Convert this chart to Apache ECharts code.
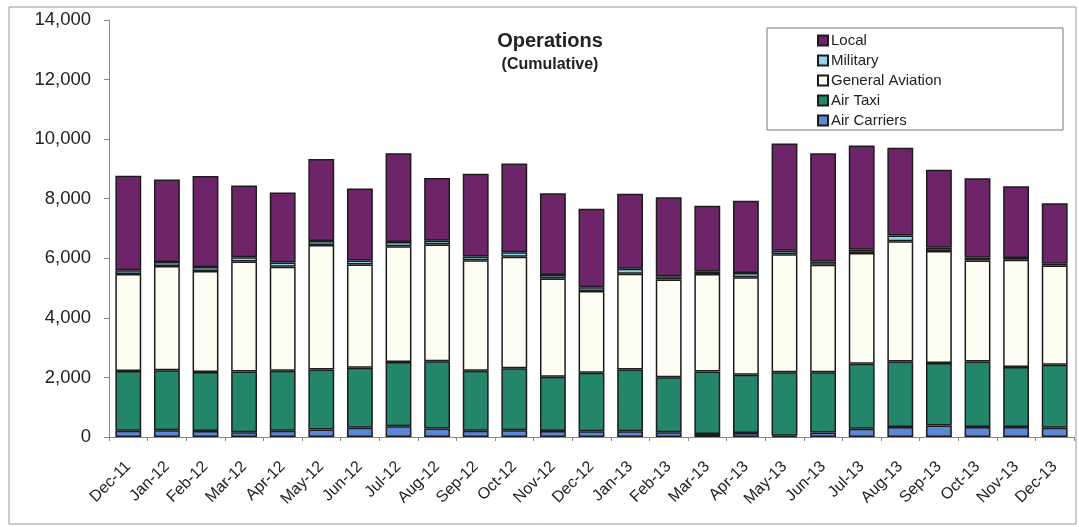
<!DOCTYPE html>
<html>
<head>
<meta charset="utf-8">
<title>Operations (Cumulative)</title>
<script src="https://cdn.jsdelivr.net/npm/echarts@6/dist/echarts.min.js"></script>
<style>
  html, body { margin: 0; padding: 0; background: #fff; }
  #chart { width: 1079px; height: 527px; }
</style>
</head>
<body>
<div id="chart"></div>
<script>
// months on the x axis
var months = ['Dec-11', 'Jan-12', 'Feb-12', 'Mar-12', 'Apr-12', 'May-12', 'Jun-12', 'Jul-12',
  'Aug-12', 'Sep-12', 'Oct-12', 'Nov-12', 'Dec-12', 'Jan-13', 'Feb-13', 'Mar-13', 'Apr-13',
  'May-13', 'Jun-13', 'Jul-13', 'Aug-13', 'Sep-13', 'Oct-13', 'Nov-13', 'Dec-13']

// stacked series, bottom to top
var airCarriers = [210, 225, 200, 160, 210, 250, 310, 365, 285, 210, 225, 200, 195, 190, 160, 100, 135,
  40, 150, 280, 335, 390, 335, 335, 310]
var airTaxi = [2005, 2020, 1980, 2040, 2015, 2020, 2015, 2150, 2260, 2015, 2080, 1825, 1965, 2080, 1845,
  2095, 1955, 2135, 2020, 2180, 2200, 2095, 2200, 2015, 2115]
var generalAviation = [3255, 3500, 3390, 3695, 3490, 4180, 3470, 3890, 3915, 3710, 3750, 3300, 2740,
  3210, 3280, 3275, 3270, 3960, 3610, 3715, 4040, 3760, 3390, 3600, 3330]
var military = [130, 130, 135, 140, 140, 130, 130, 140, 130, 125, 145, 115, 125, 170, 110, 90, 145,
  115, 110, 110, 190, 110, 90, 60, 60]
var local = [3170, 2770, 3055, 2410, 2350, 2750, 2420, 2980, 2105, 2775, 2985, 2740, 2640, 2515, 2650,
  2205, 2425, 3600, 3640, 3500, 2945, 2620, 2675, 2410, 2035]

var yTicks = [0, 14000, 2000] // min, max, step

var chart = echarts.init(document.getElementById('chart'))

function bar (name, data, color) {
  return {
    name: name,
    type: 'bar',
    stack: 'ops',
    barWidth: '67%',
    data: data,
    itemStyle: { color: color, borderColor: '#1c1c1c', borderWidth: 1.5 }
  }
}

var option = {
  animation: false,
  backgroundColor: '#fff',
  textStyle: { fontFamily: 'Liberation Sans, Arial, sans-serif' },
  title: {
    text: 'Operations',
    subtext: '(Cumulative)',
    left: 545,
    top: 26,
    textAlign: 'center',
    itemGap: 6,
    textStyle: { fontSize: 20, fontWeight: 'bold', color: '#222' },
    subtextStyle: { fontSize: 16, fontWeight: 'bold', color: '#222' }
  },
  legend: {
    orient: 'vertical',
    left: 812,
    top: 28,
    itemWidth: 10,
    itemHeight: 10,
    itemGap: 5,
    icon: 'rect',
    textStyle: { fontSize: 15, color: '#222', padding: [0, 0, 0, -2] },
    data: ['Local', 'Military', 'General Aviation', 'Air Taxi', 'Air Carriers']
  },
  graphic: [
    {
      type: 'rect',
      shape: { x: 767, y: 28, width: 296, height: 102 },
      style: { fill: 'none', stroke: '#777', lineWidth: 1 },
      z: -1
    },
    {
      type: 'rect',
      shape: { x: 9, y: 7, width: 1067, height: 517 },
      style: { fill: 'none', stroke: '#999', lineWidth: 1 },
      z: -1
    }
  ],
  grid: { left: 109, right: 5, top: 20, bottom: 90 },
  xAxis: {
    type: 'category',
    data: months,
    axisLine: { lineStyle: { color: '#888' } },
    axisTick: { show: true, alignWithLabel: false, length: 4, lineStyle: { color: '#888' } },
    axisLabel: { rotate: 45, fontSize: 16, color: '#222', margin: 27, interval: 0 }
  },
  yAxis: {
    type: 'value',
    min: yTicks[0],
    max: yTicks[1],
    interval: yTicks[2],
    splitLine: { show: false },
    axisLine: { show: true, lineStyle: { color: '#888' } },
    axisTick: { show: true, length: 5, lineStyle: { color: '#888' } },
    axisLabel: {
      fontSize: 18.5,
      color: '#222',
      margin: 18,
      formatter: function (v) { return v.toLocaleString('en-US') }
    }
  },
  series: [
    bar('Air Carriers', airCarriers, '#5b87d4'),
    bar('Air Taxi', airTaxi, '#23866a'),
    bar('General Aviation', generalAviation, '#fdfdf2'),
    bar('Military', military, '#8fd3ee'),
    bar('Local', local, '#6e2468')
  ]
}

chart.setOption(option)
window.addEventListener('resize', function () {
  chart.resize()
})
</script>
</body>
</html>
